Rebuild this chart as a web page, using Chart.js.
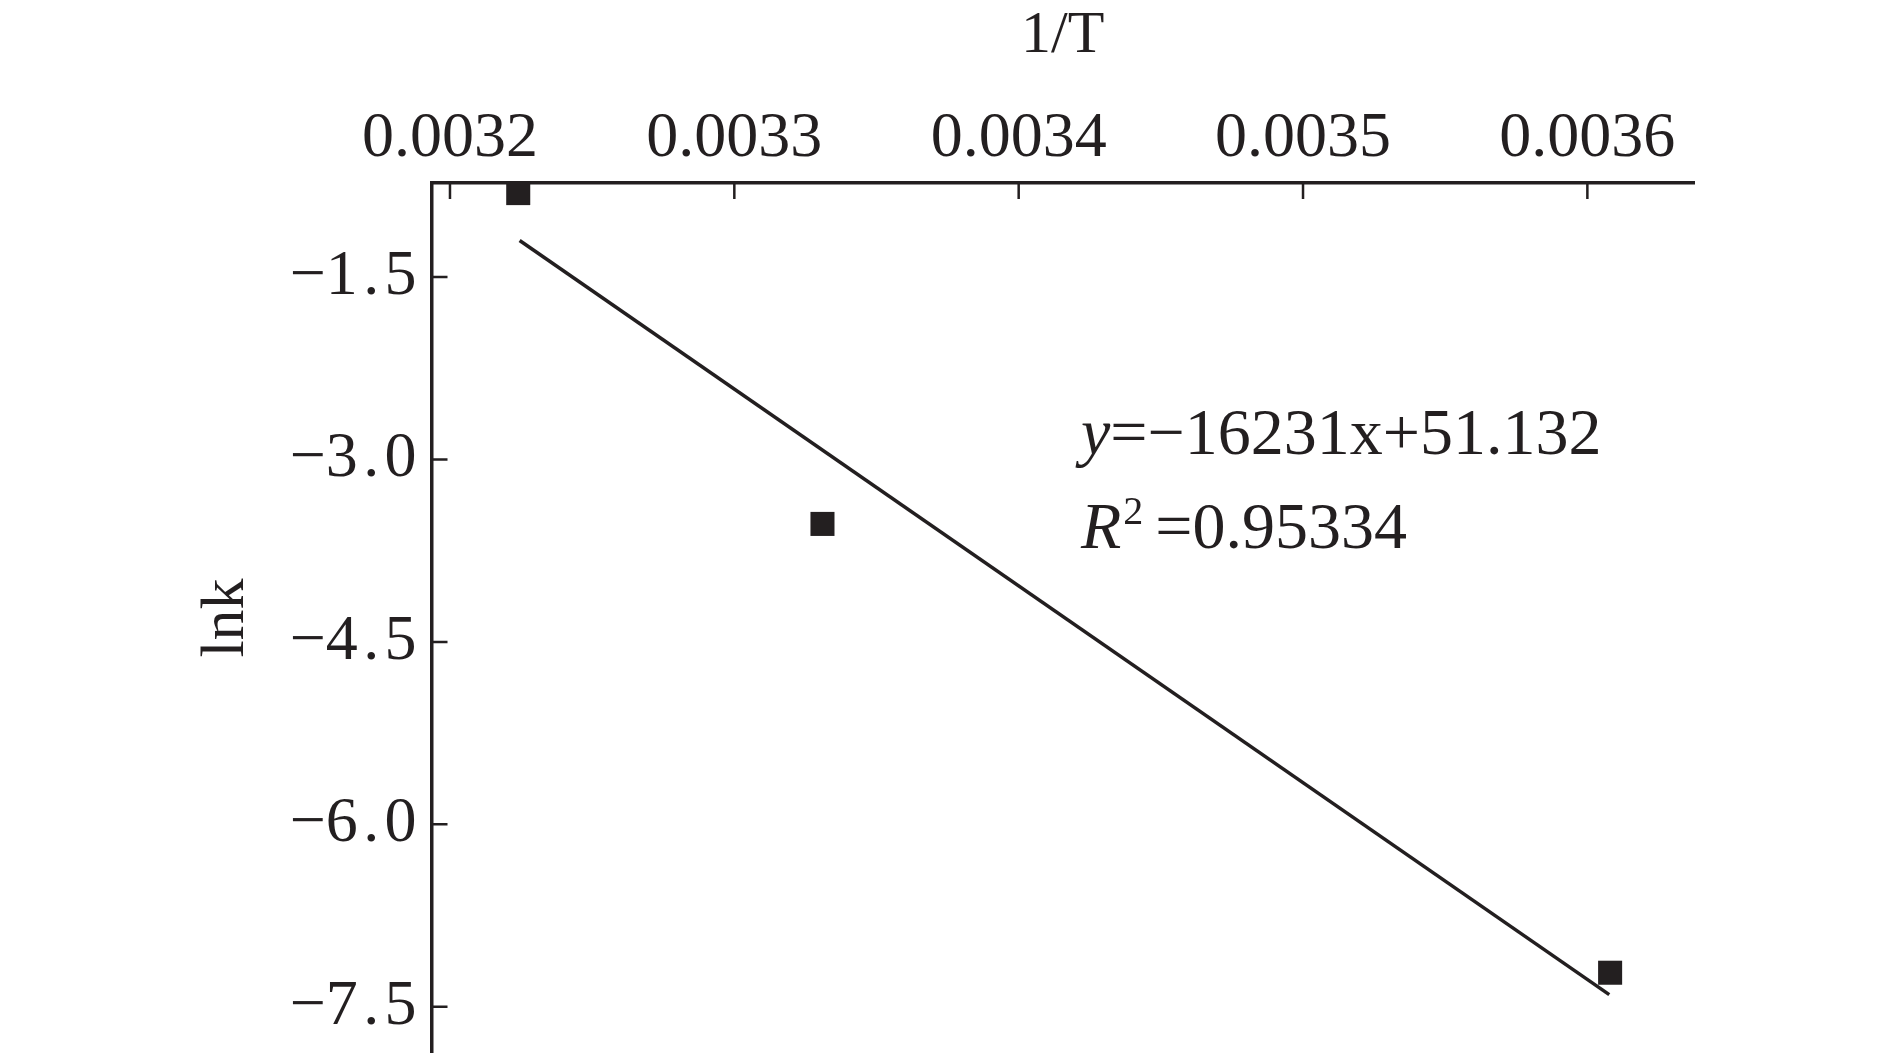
<!DOCTYPE html>
<html>
<head>
<meta charset="utf-8">
<script src="https://cdn.jsdelivr.net/npm/chart.js@4.4.1/dist/chart.umd.min.js"></script>
<style>
	html, body { margin: 0; padding: 0; background: #fff; }
	#wrap { width: 1890px; height: 1053px; }
</style>
</head>
<body>
<div id="wrap"><canvas id="chart" width="1890" height="1053"></canvas></div>
<script>
const invT = [0.003224, 0.003331, 0.003608];
const lnk = [-0.81, -3.53, -7.22];
const fitX = [0.0032245, 0.0036077];
const fitY = [-1.20, -7.40];
const xTicks = [0.0032, 0.0033, 0.0034, 0.0035, 0.0036];
const yTicks = [-1.5, -3.0, -4.5, -6.0, -7.5];
const eqLine = "=\u221216231x+51.132";
const r2Line = "=0.95334";

const ink = "#231f20";
const serif = "'Liberation Serif', 'Times New Roman', serif";

const ctx = document.getElementById("chart");

const pointData = invT.map((x, i) => ({ x, y: lnk[i] }));
const lineData = fitX.map((x, i) => ({ x, y: fitY[i] }));

// ticks in the reference point into the plot, so draw them here
const innerTicks = {
	id: "innerTicks",
	afterDraw(chart) {
		const c = chart.ctx;
		const area = chart.chartArea;
		const xs = chart.scales.x;
		const ys = chart.scales.y;
		c.save();
		c.strokeStyle = ink;
		c.lineWidth = 2.5;
		c.beginPath();
		xTicks.forEach((v) => {
			const px = xs.getPixelForValue(v);
			c.moveTo(px, area.top);
			c.lineTo(px, area.top + 16);
		});
		yTicks.forEach((v) => {
			const py = ys.getPixelForValue(v);
			c.moveTo(area.left, py);
			c.lineTo(area.left + 16, py);
		});
		c.stroke();

		// regression text
		c.fillStyle = ink;
		c.textBaseline = "alphabetic";
		c.textAlign = "left";
		let x0 = 1081;
		c.font = "italic 66px " + serif;
		c.fillText("y", x0, 454);
		let w = c.measureText("y").width;
		c.font = "66px " + serif;
		c.fillText(eqLine, x0 + w, 454);

		c.font = "italic 66px " + serif;
		c.fillText("R", x0, 548);
		w = c.measureText("R").width;
		c.font = "40px " + serif;
		c.fillText("2", x0 + w + 2, 524);
		const w2 = c.measureText("2").width;
		c.font = "66px " + serif;
		c.fillText(r2Line, x0 + w + 2 + w2 + 12, 548);
		c.restore();
	},
};

chartInstance = new Chart(ctx, {
	data: {
		datasets: [
			{
				type: "scatter",
				data: pointData,
				pointStyle: "rect",
				pointRadius: 17,
				pointHoverRadius: 17,
				backgroundColor: ink,
				borderColor: ink,
				borderWidth: 0,
				clip: false,
			},
			{
				type: "line",
				data: lineData,
				borderColor: ink,
				borderWidth: 3.5,
				pointRadius: 0,
				fill: false,
				clip: false,
			},
		],
	},
	options: {
		responsive: false,
		animation: false,
		events: [],
		layout: {
			autoPadding: false,
			padding: { left: 0, top: 0, right: 196, bottom: 0 },
		},
		plugins: {
			legend: { display: false },
			tooltip: { enabled: false },
		},
		scales: {
			x: {
				type: "linear",
				position: "top",
				min: 0.0031935,
				max: 0.0036375,
				afterBuildTicks: (s) => {
					s.ticks = xTicks.map((value) => ({ value }));
				},
				afterFit: (s) => {
					s.height = 183;
					s.paddingLeft = 0;
					s.paddingRight = 0;
				},
				grid: { display: false, drawTicks: false },
				border: { display: true, color: ink, width: 3.5 },
				ticks: {
					color: ink,
					padding: 5,
					maxRotation: 0,
					autoSkip: false,
					font: { family: serif, size: 64 },
					callback: (v) => Number(v).toFixed(4),
				},
				title: {
					display: true,
					text: "1/T",
					color: ink,
					padding: { top: 0, bottom: 0 },
					font: { family: serif, size: 60 },
				},
			},
			y: {
				type: "linear",
				position: "left",
				min: -7.88,
				max: -0.727,
				afterBuildTicks: (s) => {
					s.ticks = yTicks.map((value) => ({ value }));
				},
				afterFit: (s) => {
					s.width = 431.5;
					s.paddingTop = 0;
					s.paddingBottom = 0;
				},
				grid: { display: false, drawTicks: false },
				border: { display: true, color: ink, width: 3.5 },
				ticks: {
					color: ink,
					padding: 15,
					autoSkip: false,
					font: { family: serif, size: 64 },
					// the reference sets these labels a little wider
					callback: (v) => Number(v).toFixed(1).replace("-", "\u2212").split("").join("\u200A").replace("\u2212\u200A", "\u2212"),
				},
				title: {
					display: true,
					text: "lnk",
					color: ink,
					padding: { top: 190, bottom: 0 },
					font: { family: serif, size: 62 },
				},
			},
		},
	},
	plugins: [innerTicks],
});
</script>
</body>
</html>
